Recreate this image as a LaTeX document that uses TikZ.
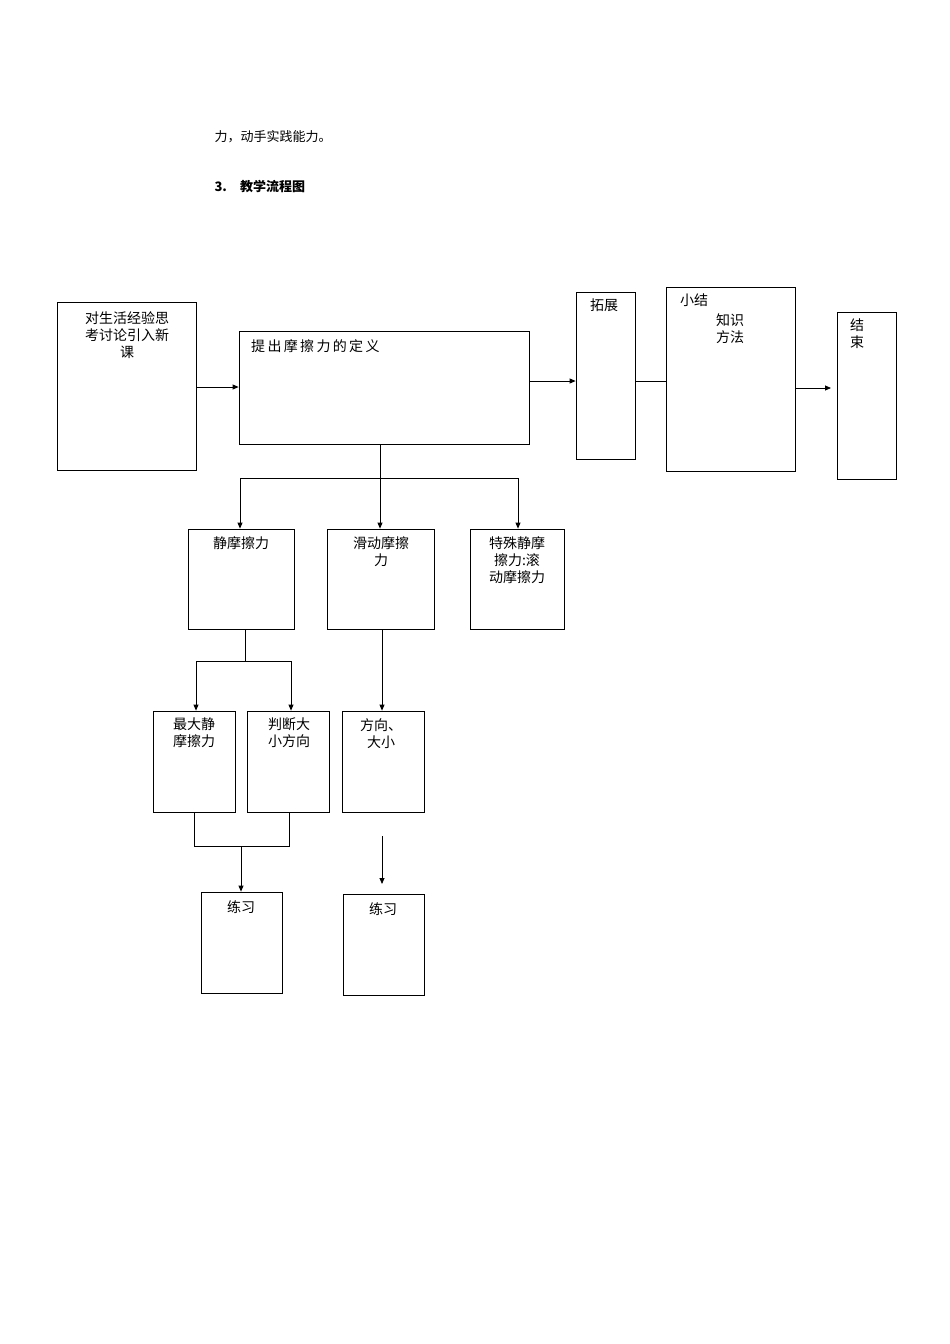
\documentclass[tikz,border=0pt]{standalone}
\usepackage{fontspec}
\setmainfont{Noto Sans CJK SC}
\usetikzlibrary{arrows.meta}
\begin{document}
\begin{tikzpicture}[x=1pt,y=-1pt,
  box/.style={draw,line width=0.8pt,inner sep=0pt},
  lbl/.style={anchor=north,inner sep=0pt,font=\fontsize{14}{17}\selectfont,align=center},
  ar/.style={-{Triangle[length=6pt,width=5pt]},line width=0.8pt},
  ln/.style={line width=0.8pt}]
\useasboundingbox (0,0) rectangle (950,1344);
\newcommand{\bx}[5]{\node[box,minimum width=#4-#2,minimum height=#5-#3] (#1) at ({(#2+#4)/2},{(#3+#5)/2}) {};}
\node[anchor=west,font=\fontsize{13}{15}\selectfont] (t1) at (211,137) {力，动手实践能力。};
\node[anchor=west,font=\bfseries\fontsize{13}{15}\selectfont] (t2) at (211,187) {3.\quad 教学流程图};
\bx{A}{57}{302}{196}{470}
\bx{B}{239}{331}{529}{444}
\bx{C}{576}{292}{635}{459}
\bx{D}{666}{287}{795}{471}
\bx{E}{837}{312}{896}{479}
\bx{F}{188}{529}{294}{629}
\bx{G}{327}{529}{434}{629}
\bx{H}{470}{529}{564}{629}
\bx{I}{153}{711}{235}{812}
\bx{J}{247}{711}{329}{812}
\bx{K}{342}{711}{424}{812}
\bx{L}{201}{892}{282}{993}
\bx{M}{343}{894}{424}{995}
\node[lbl] (la) at (127,311) {对生活经验思\\考讨论引入新\\课};
\node[lbl,anchor=north west] (lb) at (251,339) {提\,出\,摩\,擦\,力\,的\,定\,义};
\node[lbl] (lc) at (604,299) {拓展};
\node[lbl] (ld1) at (694,294) {小结};
\node[lbl] (ld2) at (730,314) {知识\\方法};
\node[lbl] (le) at (857,319) {结\\束};
\node[lbl] (lf) at (241,536) {静摩擦力};
\node[lbl] (lg) at (381,536) {滑动摩擦\\力};
\node[lbl] (lh) at (517,536) {特殊静摩\\擦力:滚\\动摩擦力};
\node[lbl] (li) at (194,718) {最大静\\摩擦力};
\node[lbl] (lj) at (289,718) {判断大\\小方向};
\node[lbl] (lk) at (381,718) {方向、\\大小};
\node[lbl] (ll) at (241,900) {练习};
\node[lbl] (lm) at (383,902) {练习};
\draw[ar] (A.east|-0,387) -- (B.west|-0,387);
\draw[ar] (B.east|-0,381) -- (C.west|-0,381);
\draw[ln] (C.east|-0,381) -- (D.west|-0,381);
\coordinate (eend) at (831,388);
\draw[ar] (D.east|-0,388) -- (eend);
\coordinate (b1) at (380,478);
\draw[ln] (B.south-|b1) -- (b1);
\draw[ln] (240,478) -- (518,478);
\draw[ar] (240,478) -- (F.north-|240,0);
\draw[ar] (b1) -- (G.north-|b1);
\draw[ar] (518,478) -- (H.north-|518,0);
\coordinate (f1) at (245,661);
\draw[ln] (F.south-|f1) -- (f1);
\draw[ln] (196,661) -- (291,661);
\draw[ar] (196,661) -- (I.north-|196,0);
\draw[ar] (291,661) -- (J.north-|291,0);
\draw[ar] (G.south-|382,0) -- (K.north-|382,0);
\draw[ln] (I.south-|194,0) -- (194,846) -- (289,846) -- (J.south-|289,0);
\coordinate (j1) at (241,846);
\draw[ar] (j1) -- (L.north-|j1);
\coordinate (k1) at (382,836);
\coordinate (k2) at (382,884);
\draw[ar] (k1) -- (k2);
\end{tikzpicture}
\end{document}
